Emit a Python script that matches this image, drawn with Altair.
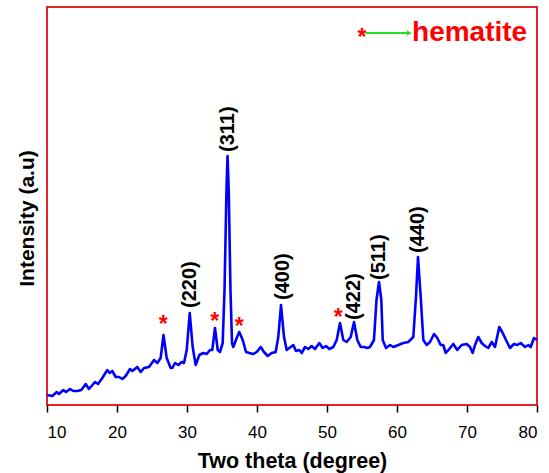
import altair as alt
import pandas as pd

# ---- data ----
two_theta = [10.04, 10.76, 11.39, 11.71, 12.33, 12.71, 13.29, 13.76, 14.33, 14.90,
             15.53, 16.00, 16.86, 17.29, 17.90, 18.61, 18.96, 19.33, 19.81, 20.29,
             20.76, 21.24, 21.86, 22.19, 22.90, 23.39, 23.86, 24.57, 25.29, 25.76,
             26.24, 26.64, 27.10, 27.67, 27.90, 28.29, 28.76, 29.24, 29.57, 29.96,
             30.39, 30.81, 31.24, 31.76, 32.33, 32.81, 33.29, 33.61, 34.00, 34.39,
             34.71, 35.10, 35.36, 35.64, 35.79, 35.96, 36.21, 36.43, 36.61, 37.10,
             37.47, 37.96, 38.43, 38.90, 39.47, 39.96, 40.53, 41.00, 41.53, 42.10,
             42.67, 43.04, 43.43, 43.86, 44.24, 44.81, 45.19, 45.57, 46.04, 46.39,
             46.86, 47.33, 47.81, 48.29, 48.90, 49.39, 49.86, 50.33, 50.90, 51.39,
             51.86, 52.33, 52.81, 53.39, 53.86, 54.33, 54.81, 55.29, 55.76, 56.14,
             56.71, 57.07, 57.43, 57.76, 57.96, 58.43, 59.00, 59.47, 60.19, 60.90,
             61.61, 62.33, 62.71, 63.00, 63.39, 63.76, 64.24, 64.71, 65.29, 65.76,
             66.24, 66.61, 66.96, 67.47, 68.04, 68.61, 69.24, 69.96, 70.43, 70.81,
             71.14, 71.61, 72.10, 72.57, 73.04, 73.53, 74.00, 74.61, 75.10, 75.57,
             76.14, 76.71, 77.19, 77.67, 78.29, 78.76, 79.10, 79.57, 80.00]
intensity = [10, 9, 13, 11, 15, 13, 16, 14, 14, 15,
             21, 16, 23, 21, 27, 35, 32, 34, 28, 28,
             26, 29, 36, 34, 38, 33, 37, 38, 45, 42,
             47, 70, 47, 37, 37, 42, 40, 43, 42, 55,
             92, 58, 40, 50, 52, 51, 55, 55, 77, 55,
             53, 62, 115, 215, 249, 215, 115, 62, 58, 67,
             73, 65, 53, 52, 51, 53, 58, 53, 49, 52,
             53, 68, 100, 68, 55, 58, 60, 54, 55, 52,
             58, 56, 59, 56, 62, 57, 59, 56, 58, 65,
             82, 65, 63, 68, 83, 65, 58, 58, 57, 58,
             65, 105, 123, 105, 65, 57, 60, 58, 60, 62,
             63, 68, 108, 148, 108, 65, 60, 63, 71, 67,
             60, 60, 52, 56, 61, 55, 60, 61, 58, 52,
             60, 68, 62, 59, 57, 63, 58, 78, 72, 65,
             57, 61, 60, 62, 58, 60, 58, 67, 65]

hkl_labels = ["(220)", "(311)", "(400)", "(422)", "(511)", "(440)"]
hkl_x = [30.43, 35.86, 43.71, 53.86, 57.43, 63.0]
hkl_y = [97, 253, 105, 85, 125, 152]

star_x = [26.61, 33.96, 37.47, 51.61]
star_y = [85, 88, 83, 92]

legend_label = ["hematite"]
legend_star_x = [55.0]
legend_line_x = [55.45]
legend_line_x2 = [61.75]
legend_text_x = [62.15]
legend_y = [372]
legend_text_y = [364]

FONT = "Liberation Sans"

xrd = pd.DataFrame({"x": two_theta, "y": intensity})
hkl = pd.DataFrame({"x": hkl_x, "y": hkl_y, "t": hkl_labels})
stars = pd.DataFrame({"x": star_x, "y": star_y, "t": ["*"] * len(star_x)})
leg_star = pd.DataFrame({"x": legend_star_x, "y": legend_y, "t": ["*"]})
leg_line = pd.DataFrame({"x": legend_line_x, "x2": legend_line_x2, "y": legend_y})
leg_head = pd.DataFrame({"x": legend_line_x2, "y": legend_y})
leg_text = pd.DataFrame({"x": legend_text_x, "y": legend_text_y, "t": legend_label})

xscale = alt.Scale(domain=[10, 80], nice=False, zero=False)
yscale = alt.Scale(domain=[0, 398], nice=False, zero=False)

line = alt.Chart(xrd).mark_line(color="#0000ff", strokeWidth=2.6, strokeJoin="round").encode(
    x=alt.X("x:Q", scale=xscale, axis=alt.Axis(
        title="Two theta (degree)",
        values=list(range(10, 81, 5)),
        labelExpr="datum.value % 10 === 0 ? datum.label : ''",
        domain=False, grid=False,
        tickColor="black", tickWidth=1.5,
        tickSize={"condition": {"test": "datum.value % 10 === 0", "value": 7}, "value": 4},
        labelFont=FONT, labelFontSize=17, labelColor="black", labelPadding=12,
        titleFont=FONT, titleFontSize=21.5, titleFontWeight="bold", titleColor="black",
        titlePadding=10)),
    y=alt.Y("y:Q", scale=yscale, axis=alt.Axis(
        title="Intensity (a.u)", labels=False, ticks=False, domain=False, grid=False,
        titleFont=FONT, titleFontSize=21, titleFontWeight="bold", titleColor="black",
        titlePadding=10, titleY=211)),
)

hkl_text = alt.Chart(hkl).mark_text(
    angle=270, align="left", baseline="middle", font=FONT, fontSize=20,
    fontWeight="bold", color="black").encode(x="x:Q", y="y:Q", text="t:N")

star_text = alt.Chart(stars).mark_text(
    align="center", baseline="alphabetic", dy=12, font=FONT, fontSize=23,
    fontWeight="bold", color="#ff0000").encode(x="x:Q", y="y:Q", text="t:N")

leg_star_text = alt.Chart(leg_star).mark_text(
    align="center", baseline="alphabetic", dy=12, font=FONT, fontSize=23,
    fontWeight="bold", color="#ff0000").encode(x="x:Q", y="y:Q", text="t:N")

leg_rule = alt.Chart(leg_line).mark_rule(color="#22dd22", strokeWidth=2).encode(
    x="x:Q", x2="x2:Q", y="y:Q")

leg_arrow = alt.Chart(leg_head).mark_point(
    shape="triangle-right", filled=True, color="#22dd22", size=30, opacity=1).encode(
    x="x:Q", y="y:Q")

leg_label = alt.Chart(leg_text).mark_text(
    align="left", baseline="alphabetic", font=FONT, fontSize=28,
    fontWeight="bold", color="#ff0000").encode(x="x:Q", y="y:Q", text="t:N")

chart = alt.layer(line, hkl_text, star_text, leg_star_text, leg_rule, leg_arrow, leg_label).properties(
    width=490, height=398,
    background="white",
    padding={"left": 47, "top": 7, "right": 12, "bottom": 68},
    autosize=alt.AutoSizeParams(type="none"),
).configure_view(stroke="#e3222a", strokeWidth=2)

chart.save("out.html", embed_options={"renderer": "svg", "actions": False})
